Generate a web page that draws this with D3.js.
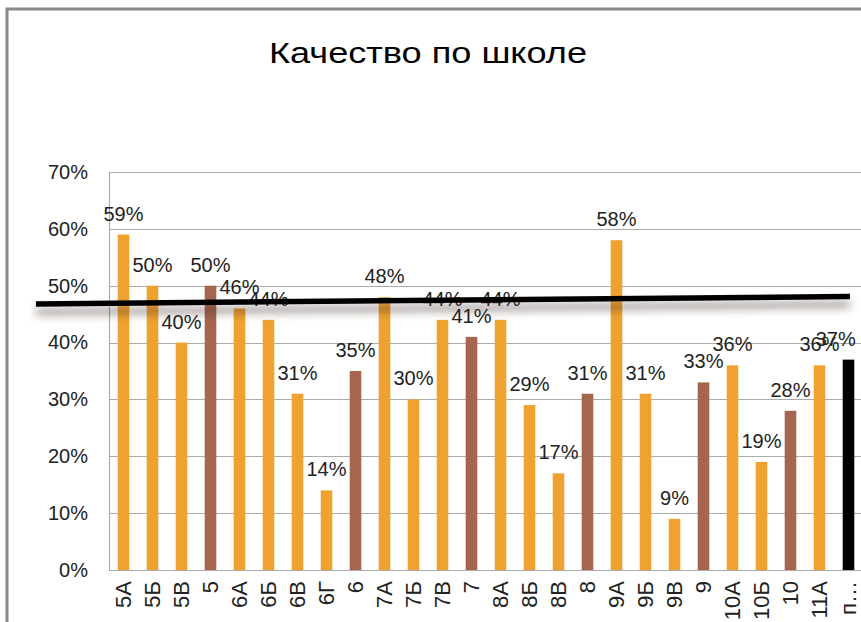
<!DOCTYPE html>
<html>
<head>
<meta charset="utf-8">
<script src="https://cdn.jsdelivr.net/npm/d3@7"></script>
<style>
  body { margin: 0; background: #fff; }
  svg { display: block; font-family: "Liberation Sans", Arial, sans-serif; }
</style>
</head>
<body>
<div id="chart"></div>
<script>
// chart data
const title = 'Качество по школе';
const categories = ['5А', '5Б', '5В', '5', '6А', '6Б', '6В', '6Г', '6', '7А', '7Б', '7В', '7',
  '8А', '8Б', '8В', '8', '9А', '9Б', '9В', '9', '10А', '10Б', '10', '11А', 'п…'];
const values = [59, 50, 40, 50, 46, 44, 31, 14, 35, 48, 30, 44, 41,
  44, 29, 17, 31, 58, 31, 9, 33, 36, 19, 28, 36, 37];
// class = single class, grade = whole parallel, school = school total
const kinds = ['class', 'class', 'class', 'grade', 'class', 'class', 'class', 'class', 'grade',
  'class', 'class', 'class', 'grade', 'class', 'class', 'class', 'grade',
  'class', 'class', 'class', 'grade', 'class', 'class', 'grade', 'class', 'school'];
const yTicks = [0, 10, 20, 30, 40, 50, 60, 70];
// hand drawn level line: position in category units, value in %
const levelLine = [{ pos: -2.52, value: 46.8 }, { pos: 25.55, value: 48.1 }];

const width = 861;
const height = 622;
const margin = { left: 109, top: 172, bottom: 52 };
const step = 29;

const colors = { class: '#EFA22F', grade: '#A6654E', school: '#000000' };

const svg = d3.select('#chart')
  .append('svg')
  .attr('width', width)
  .attr('height', height);

// drop shadow for the drawn line
const defs = svg.append('defs');
defs.append('filter')
  .attr('id', 'shadow')
  .attr('x', '-10%').attr('y', '-300%')
  .attr('width', '120%').attr('height', '800%')
  .append('feDropShadow')
  .attr('dx', 0)
  .attr('dy', 8)
  .attr('stdDeviation', 4)
  .attr('flood-color', '#3a2a20')
  .attr('flood-opacity', 0.55);

const plotRight = margin.left + categories.length * step;

const x = d3.scaleBand()
  .domain(categories)
  .range([margin.left, plotRight])
  .paddingInner(0.6)
  .paddingOuter(0.3);

const xPos = d3.scaleLinear()
  .domain([0, categories.length])
  .range([margin.left, plotRight]);

const y = d3.scaleLinear()
  .domain([0, 70])
  .range([height - margin.bottom, margin.top]);

// outer frame (chart is cut off on the right and bottom)
svg.append('path')
  .attr('d', `M7,${height} V9 H${width}`)
  .attr('fill', 'none')
  .attr('stroke', '#8a8a8a')
  .attr('stroke-width', 3);

// title
svg.append('text')
  .attr('x', 269)
  .attr('y', 63)
  .attr('textLength', 318)
  .attr('lengthAdjust', 'spacingAndGlyphs')
  .style('font-size', '30px')
  .attr('fill', '#000')
  .text(title);

// gridlines
svg.append('g')
  .selectAll('line')
  .data(yTicks)
  .join('line')
  .attr('x1', margin.left)
  .attr('x2', plotRight)
  .attr('y1', d => Math.round(y(d)) + 0.5)
  .attr('y2', d => Math.round(y(d)) + 0.5)
  .attr('stroke', '#ababab')
  .attr('stroke-width', 1.2);

// y axis
const yAxis = svg.append('g')
  .attr('transform', `translate(${margin.left},0)`)
  .call(d3.axisLeft(y).tickValues(yTicks).tickSize(0).tickPadding(21).tickFormat(d => d + '%'));
yAxis.select('.domain').attr('stroke', '#ababab').attr('stroke-width', 1.2);
yAxis.selectAll('text')
  .style('font-size', '20px')
  .style('font-family', '"Liberation Sans", Arial, sans-serif')
  .attr('fill', '#222');

// bars
svg.append('g')
  .selectAll('rect')
  .data(values)
  .join('rect')
  .attr('x', (d, i) => x(categories[i]))
  .attr('width', x.bandwidth())
  .attr('y', d => y(d))
  .attr('height', d => y(0) - y(d))
  .attr('fill', (d, i) => colors[kinds[i]]);

// x axis labels
const xAxis = svg.append('g')
  .attr('transform', `translate(0,${y(0)})`)
  .call(d3.axisBottom(x).tickSize(0).tickPadding(0));
xAxis.select('.domain')
  .attr('d', `M${margin.left},0.5H${plotRight}`)
  .attr('stroke', '#ababab')
  .attr('stroke-width', 1.2);
xAxis.selectAll('text')
  .attr('transform', 'translate(0,11) rotate(-90)')
  .attr('text-anchor', 'end')
  .attr('x', 0)
  .attr('y', 0)
  .attr('dy', '0.36em')
  .style('font-size', '22px')
  .style('font-family', '"Liberation Sans", Arial, sans-serif')
  .attr('fill', '#222');

// value labels
const labels = svg.append('g')
  .selectAll('text')
  .data(values)
  .join('text')
  .attr('x', (d, i) => x(categories[i]) + x.bandwidth() / 2)
  .attr('y', d => y(d) - 14)
  .attr('text-anchor', 'middle')
  .style('font-size', '20px')
  .attr('fill', '#222')
  .text(d => d + '%');

// keep labels inside the visible chart
labels.each(function () {
  const box = this.getBBox();
  const over = box.x + box.width - (width - 5);
  if (over > 0) d3.select(this).attr('x', +d3.select(this).attr('x') - over);
});

// drawn level line with shadow
svg.append('line')
  .attr('x1', xPos(levelLine[0].pos))
  .attr('y1', y(levelLine[0].value))
  .attr('x2', xPos(levelLine[1].pos))
  .attr('y2', y(levelLine[1].value))
  .attr('stroke', '#000')
  .attr('stroke-width', 5.5)
  .attr('filter', 'url(#shadow)');
</script>
</body>
</html>
